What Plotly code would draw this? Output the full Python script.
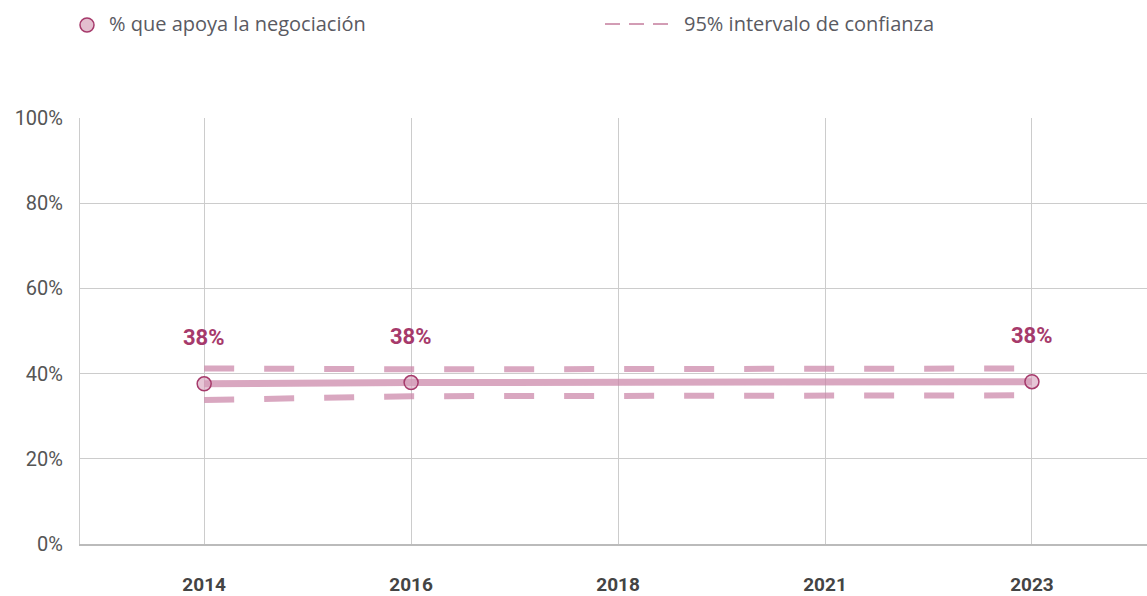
import plotly.graph_objects as go

categories = ["2014", "2016", "2018", "2021", "2023"]
years = ["2014", "2016", "2023"]
support = [37.6, 37.9, 38.1]
ci_upper = [41.2, 41.0, 41.2]
ci_lower = [33.8, 34.7, 34.9]
labels = ["38%", "38%", "38%"]
y_ticks = [0, 20, 40, 60, 80, 100]
y_ticktext = ["0%", "20%", "40%", "60%", "80%", "100%"]
legend_names = ["% que apoya la negociación", "95% intervalo de confianza"]

LINE = "rgba(201,130,165,0.7)"
DARK = "#a63a6b"
W, H = 1147, 596
ML, MR, MT, MB = 80, 0, 118, 52
PW, PH = W - ML - MR, H - MT - MB


def px(x):
    return (x - ML) / PW


def py(y):
    return (H - MB - y) / PH


fig = go.Figure()

for ci in (ci_upper, ci_lower):
    fig.add_trace(go.Scatter(x=years, y=ci, mode="lines", showlegend=False,
                             line=dict(color=LINE, width=6, dash="30px,30px"),
                             hoverinfo="skip"))

fig.add_trace(go.Scatter(x=years, y=support, mode="lines+markers", showlegend=False,
                         line=dict(color=LINE, width=7),
                         marker=dict(size=14, color="rgba(214,160,186,0.6)",
                                     line=dict(color=DARK, width=1.5))))

for x, y, t in zip(years, support, labels):
    fig.add_annotation(x=categories.index(x), y=y, xref="x", yref="y",
                       text=f"<b>{t}</b>", showarrow=False, yshift=46,
                       font=dict(family="Roboto", size=22, color=DARK))

# manual legend
fig.add_shape(type="circle", xref="paper", yref="paper",
              x0=px(80), x1=px(94), y0=py(32), y1=py(18),
              fillcolor="#e3bfcf", line=dict(color=DARK, width=1.5))
fig.add_annotation(xref="paper", yref="paper", x=px(107), y=py(24), xanchor="left",
                   yanchor="middle", text=legend_names[0], showarrow=False,
                   font=dict(family="Open Sans", size=20, color="#5a5a62"))
fig.add_shape(type="line", xref="paper", yref="paper",
              x0=px(605), x1=px(668), y0=py(24), y1=py(24),
              line=dict(color=DARK, width=1, dash="15px,9px"))
fig.add_annotation(xref="paper", yref="paper", x=px(682), y=py(24), xanchor="left",
                   yanchor="middle", text=legend_names[1], showarrow=False,
                   font=dict(family="Open Sans", size=20, color="#5a5a62"))

fig.update_layout(
    width=W, height=H,
    margin=dict(l=ML, r=MR, t=MT, b=MB, autoexpand=False),
    plot_bgcolor="white", paper_bgcolor="white",
    showlegend=False,
    xaxis=dict(type="category", categoryorder="array", categoryarray=categories,
               range=[-0.6, 4.556], showgrid=True, gridcolor="#cccccc", gridwidth=1,
               showline=True, linecolor="#bbbbbb", linewidth=2, automargin=False,
               tickfont=dict(family="Roboto", size=19, color="#444"),
               ticklabelstandoff=22, tickprefix="<b>", ticksuffix="</b>"),
    yaxis=dict(range=[0, 100], tickvals=y_ticks, ticktext=y_ticktext,
               showgrid=True, gridcolor="#cccccc", gridwidth=1, automargin=False,
               showline=True, linecolor="#cccccc", linewidth=1, zeroline=False,
               tickfont=dict(family="Roboto", size=20, color="#555"),
               ticklabelstandoff=12),
)

fig.write_html("out.html", config={"displayModeBar": False},
               post_script="document.body.style.margin='0px';")
